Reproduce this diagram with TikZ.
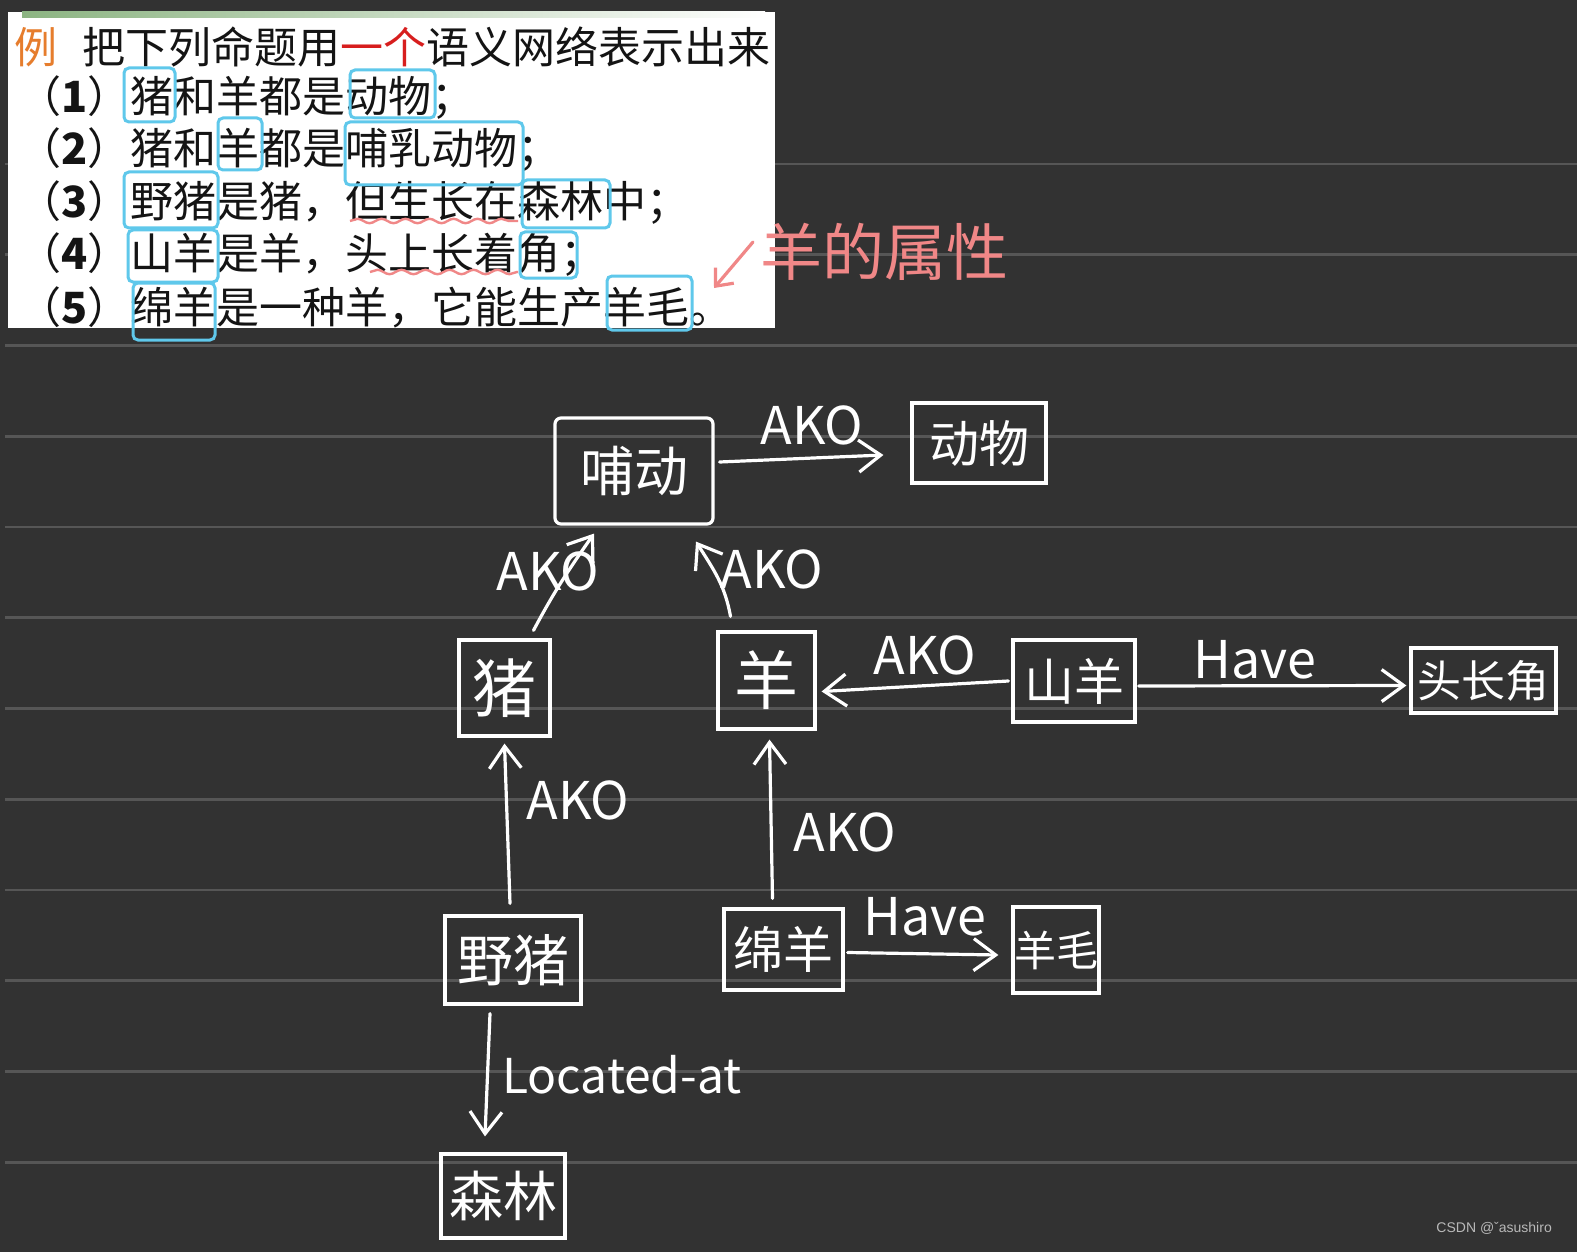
\documentclass[tikz,border=0pt]{standalone}
\usepackage{fontspec}
\setmainfont{Noto Sans CJK SC}
\newfontfamily\wmfont{Liberation Sans}
\usetikzlibrary{arrows.meta,decorations.pathmorphing}
\definecolor{bg}{RGB}{50,50,50}
\definecolor{rulec}{RGB}{86,86,86}
\definecolor{cyanhl}{RGB}{95,200,235}
\definecolor{pinkhl}{RGB}{240,135,135}
\definecolor{orng}{RGB}{230,125,45}
\definecolor{redt}{RGB}{215,30,30}
\definecolor{ink}{RGB}{20,20,20}
\definecolor{wm}{RGB}{185,185,185}
\definecolor{strip}{RGB}{140,180,130}
\begin{document}
\begin{tikzpicture}[x=1pt,y=-1pt,
  nodebox/.style={draw=white,line width=3.2pt,text=white,inner sep=0pt,font=\fontsize{50}{54}\selectfont},
  lbl/.style={text=white,inner sep=0pt,font=\fontsize{52}{56}\selectfont},
  arr/.style={draw=white,line width=3.2pt,line cap=round,-{Straight Barb[length=22pt,width=32pt,line width=3.2pt]}},
  hl/.style={draw=cyanhl,line width=3pt,rounded corners=5pt},
  wav/.style={draw=pinkhl,line width=2.4pt,decorate,decoration={snake,amplitude=2.2pt,segment length=24pt}},
  row/.style={anchor=west,inner sep=0pt,text=ink,font=\fontsize{43}{46}\selectfont}
]
\useasboundingbox (0,0) rectangle (1577,1252);
\fill[bg] (0,0) rectangle (1577,1252);
% ruled lines
\foreach \k in {0,...,11}
  \draw[rulec,line width=2.6pt] (5,{164+90.75*\k}) -- (1577,{164+90.75*\k});

% white slide
\fill[white] (8,12) rectangle (775,328);
\shade[left color=strip,right color=white] (22,12) rectangle (765,18);
\begin{scope}
\clip (8,12) rectangle (775,328);
\node[row] (hdr) at (14,47) {{\color{orng}例}\hspace{25pt}把下列命题用{\color{redt}一个}语义网络表示出来};
\node[row] (r1) at (18,98) {（{\bfseries 1}）猪和羊都是动物；};
\node[row] (r2) at (18,150) {（{\bfseries 2}）猪和羊都是哺乳动物；};
\node[row] (r3) at (18,203) {（{\bfseries 3}）野猪是猪，但生长在森林中；};
\node[row] (r4) at (18,255) {（{\bfseries 4}）山羊是羊，头上长着角；};
\node[row] (r5) at (18,307) {（{\bfseries 5}）绵羊是一种羊，它能生产羊毛。};
\end{scope}
% cyan marks
\draw[hl] (124,68) rectangle (175,122);
\draw[hl] (350,70) rectangle (435,118);
\draw[hl] (218,118) rectangle (262,170);
\draw[hl] (345,122) rectangle (523,185);
\draw[hl] (124,172) rectangle (218,228);
\draw[hl] (522,180) rectangle (610,228);
\draw[hl] (128,230) rectangle (218,282);
\draw[hl] (520,232) rectangle (577,278);
\draw[hl] (133,283) rectangle (215,340);
\draw[hl] (607,276) rectangle (692,330);
% red wavy underlines
\draw[wav] (350,221) -- (518,221);
\draw[wav] (370,272) -- (518,272);

% pink annotation
\node[text=pinkhl,inner sep=0pt,font=\fontsize{62}{64}\selectfont] (note) at (884,252) {羊的属性};
\coordinate (pa) at (753,242);
\coordinate (pb) at (714,288);
\draw[pinkhl,line width=3.2pt,line cap=round,-{Straight Barb[length=14pt,width=24pt,line width=3.2pt]}] (pa) -- (pb);

% nodes
\node[nodebox,rounded corners=6pt,minimum width=158pt,minimum height=106pt,font=\fontsize{54}{58}\selectfont] (mam) at (634,471) {哺动};
\node[nodebox,minimum width=134pt,minimum height=80pt] (ani) at (979,443) {动物};
\node[nodebox,minimum width=91pt,minimum height=96pt,font=\fontsize{64}{66}\selectfont] (pig) at (504.5,688) {猪};
\node[nodebox,minimum width=97pt,minimum height=97pt,font=\fontsize{64}{66}\selectfont] (shp) at (766.5,680.5) {羊};
\node[nodebox,minimum width=122pt,minimum height=82pt] (goat) at (1074,681) {山羊};
\node[nodebox,minimum width=145pt,minimum height=65pt,font=\fontsize{44}{46}\selectfont] (horn) at (1483.5,680.5) {头长角};
\node[nodebox,minimum width=136pt,minimum height=88pt,font=\fontsize{56}{58}\selectfont] (boar) at (513,960) {野猪};
\node[nodebox,minimum width=119pt,minimum height=81pt] (msh) at (783.5,949.5) {绵羊};
\node[nodebox,minimum width=86pt,minimum height=86pt,font=\fontsize{42}{44}\selectfont] (wool) at (1056,950) {羊毛};
\node[nodebox,minimum width=124pt,minimum height=84pt,font=\fontsize{54}{56}\selectfont] (forest) at (503,1196) {森林};

% connectors
\draw[arr] ([xshift=5pt,yshift=9pt]mam.east) -- ([xshift=-27pt,yshift=-12pt]ani.west);
\draw[arr] ([xshift=29pt,yshift=8pt]pig.north) to[out=62,in=-125] ([xshift=-40pt,yshift=-8pt]mam.south);
\draw[arr] ([xshift=-36pt,yshift=14pt]shp.north) to[out=100,in=-58] ([xshift=62pt,yshift=-16pt]mam.south);
\draw[arr] ([xshift=-3pt]goat.west) -- ([xshift=5pt,yshift=-11pt]shp.east);
\draw[arr] ([xshift=2pt,yshift=-5pt]goat.east) -- ([xshift=-3pt,yshift=-5pt]horn.west);
\draw[arr] ([xshift=-3pt,yshift=11pt]boar.north) -- ([yshift=-6pt]pig.south);
\draw[arr] ([xshift=-11pt,yshift=9pt]msh.north) -- ([xshift=3pt,yshift=-9pt]shp.south);
\draw[arr] ([xshift=3pt,yshift=-3pt]msh.east) -- ([xshift=-13pt,yshift=-5pt]wool.west);
\draw[arr] ([xshift=-23pt,yshift=-8pt]boar.south) -- ([xshift=-18pt,yshift=16pt]forest.north);

% labels
\node[lbl] (l1) at (812,425) {AKO};
\node[lbl] (l2) at (548,571) {AKO};
\node[lbl] (l3) at (772,569) {AKO};
\node[lbl] (l4) at (925,655) {AKO};
\node[lbl] (l5) at (1255,660) {Have};
\node[lbl] (l6) at (578,800) {AKO};
\node[lbl] (l7) at (845,832) {AKO};
\node[lbl] (l8) at (925,917) {Have};
\node[lbl,font=\fontsize{48}{52}\selectfont] (l9) at (622,1075) {Located-at};

% watermark
\node[anchor=east,inner sep=0pt,text=wm,font=\wmfont\fontsize{14}{16}\selectfont] (wmk) at (1552,1228) {CSDN @ˇasushiro};
\end{tikzpicture}
\end{document}
